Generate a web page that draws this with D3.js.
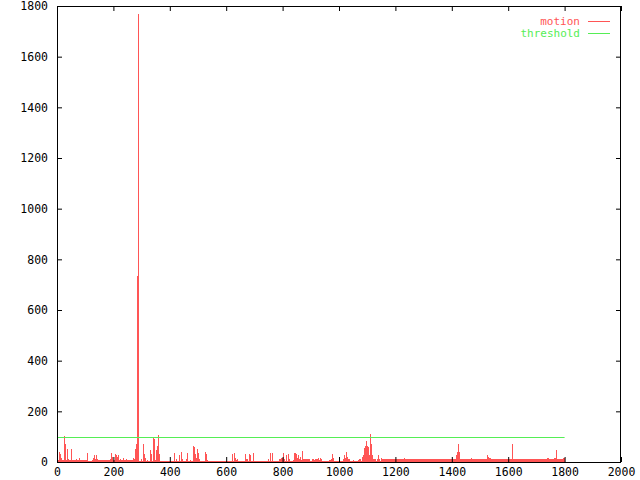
<!DOCTYPE html>
<meta charset="utf-8">
<head>
    <title>Motion</title>
    <script type="text/javascript" src="https://d3js.org/d3.v7.min.js"></script>
    <style>
        body { margin: 0; padding: 0; background: white; }
        text { font-family: "DejaVu Sans Mono", monospace; font-size: 11.5px; }
    </style>
</head>
<body>
<script>
    // frame number where each motion level starts, and the level itself
    const motionFrames = [0, 4, 7, 11, 14, 18, 25, 28, 32, 35, 39, 43, 50, 53, 67, 71, 78, 82, 106, 110,
        124, 128, 131, 135, 138, 142, 145, 188, 191, 195, 199, 206, 209, 213, 216, 220, 223, 227, 234, 238,
        245, 248, 270, 273, 277, 280, 284, 289, 291, 298, 301, 305, 309, 312, 316, 319, 323, 330, 333, 337,
        340, 344, 348, 351, 355, 358, 362, 365, 415, 418, 422, 426, 433, 436, 440, 443, 447, 450, 457, 461,
        465, 472, 475, 482, 486, 489, 493, 496, 500, 504, 507, 514, 525, 528, 532, 535, 543, 560, 606, 613,
        620, 624, 628, 631, 635, 638, 642, 667, 670, 677, 681, 684, 688, 695, 699, 709, 748, 752, 755, 759,
        762, 766, 784, 787, 794, 801, 805, 809, 812, 816, 819, 823, 826, 833, 837, 840, 847, 851, 855, 858,
        862, 865, 869, 872, 897, 904, 911, 915, 918, 925, 929, 933, 936, 940, 957, 961, 965, 972, 975, 979,
        982, 989, 1011, 1014, 1018, 1021, 1025, 1028, 1032, 1039, 1043, 1050, 1053, 1060, 1067, 1071, 1078, 1082, 1085, 1089,
        1092, 1096, 1099, 1103, 1106, 1110, 1113, 1117, 1121, 1128, 1131, 1135, 1138, 1142, 1145, 1149, 1152, 1156, 1230, 1234,
        1270, 1273, 1284, 1287, 1394, 1397, 1414, 1418, 1421, 1425, 1429, 1468, 1472, 1525, 1528, 1532, 1539, 1596, 1599, 1613,
        1617, 1738, 1745, 1762, 1770, 1773, 1777, 1794, 1800];
    const motionValues = [20, 8, 40, 33, 15, 8, 103, 73, 8, 53, 10, 8, 50, 8, 13, 8, 15, 8, 36, 4,
        8, 17, 27, 10, 27, 12, 8, 13, 37, 20, 8, 33, 27, 20, 27, 8, 13, 8, 15, 8,
        13, 8, 17, 13, 50, 73, 735, 1770, 3, 13, 3, 73, 33, 17, 3, 8, 3, 47, 33, 3,
        97, 90, 8, 47, 63, 108, 31, 3, 36, 3, 13, 3, 27, 3, 40, 13, 5, 2, 13, 37,
        5, 8, 4, 63, 60, 33, 17, 53, 37, 13, 5, 3, 40, 31, 8, 5, 2, 3, 5, 3,
        31, 3, 36, 17, 8, 13, 2, 31, 13, 5, 31, 27, 3, 36, 3, 5, 13, 5, 36, 3,
        36, 2, 5, 13, 17, 36, 13, 5, 27, 5, 33, 13, 3, 5, 8, 36, 33, 17, 27, 13,
        20, 8, 44, 10, 3, 10, 8, 13, 10, 17, 8, 17, 13, 5, 3, 5, 8, 13, 33, 17,
        5, 3, 5, 13, 27, 17, 40, 20, 13, 5, 3, 8, 2, 3, 8, 13, 5, 20, 27, 57,
        63, 83, 63, 60, 27, 111, 73, 27, 13, 10, 5, 10, 27, 10, 3, 17, 13, 10, 17, 10,
        13, 10, 13, 10, 13, 10, 27, 40, 73, 40, 10, 17, 10, 27, 20, 17, 10, 13, 10, 70,
        10, 17, 10, 17, 47, 13, 10, 17, 17];
    const threshold = 97;
    const thresholdRange = [0, 1800];
    const xTicks = [0, 200, 400, 600, 800, 1000, 1200, 1400, 1600, 1800, 2000];
    const yTicks = [0, 200, 400, 600, 800, 1000, 1200, 1400, 1600, 1800];
    const seriesNames = ["motion", "threshold"];
    const seriesColors = ["#ff5555", "#55ee55"];

    const width = 640, height = 480;
    const margin = {top: 6, right: 19, bottom: 18, left: 57};

    const svg = d3.select("body").append("svg")
        .attr("width", width)
        .attr("height", height);

    const x = d3.scaleLinear().domain([0, 2000]).range([margin.left, width - margin.right]);
    const y = d3.scaleLinear().domain([0, 1800]).range([height - margin.bottom, margin.top]);
    const fmt = d3.format("d");

    const motion = motionFrames.map((f, i) => ({frame: f, value: motionValues[i]}));

    // motion as filled impulses (step area)
    svg.append("path")
        .datum(motion)
        .attr("fill", seriesColors[0])
        .attr("shape-rendering", "crispEdges")
        .attr("d", d3.area()
            .curve(d3.curveStepAfter)
            .x(d => x(d.frame))
            .y0(y(0))
            .y1(d => y(d.value)));

    // threshold
    svg.append("line")
        .attr("x1", x(thresholdRange[0])).attr("x2", x(thresholdRange[1]))
        .attr("y1", Math.round(y(threshold)) + 0.5).attr("y2", Math.round(y(threshold)) + 0.5)
        .attr("stroke", seriesColors[1]);

    // axes: ticks inside, mirrored
    const tickLen = 5;
    svg.append("g")
        .attr("transform", `translate(0,${y(0)})`)
        .call(d3.axisBottom(x).tickValues(xTicks).tickFormat(fmt).tickSizeInner(-tickLen).tickSizeOuter(0).tickPadding(6))
        .call(g => g.select(".domain").remove());
    svg.append("g")
        .attr("transform", `translate(0,${y(1800)})`)
        .call(d3.axisTop(x).tickValues(xTicks).tickSizeInner(-tickLen).tickSizeOuter(0).tickFormat(""))
        .call(g => g.select(".domain").remove());
    svg.append("g")
        .attr("transform", `translate(${x(0)},0)`)
        .call(d3.axisLeft(y).tickValues(yTicks).tickFormat(fmt).tickSizeInner(-tickLen).tickSizeOuter(0).tickPadding(9))
        .call(g => g.select(".domain").remove());
    svg.append("g")
        .attr("transform", `translate(${x(2000)},0)`)
        .call(d3.axisRight(y).tickValues(yTicks).tickSizeInner(-tickLen).tickSizeOuter(0).tickFormat(""))
        .call(g => g.select(".domain").remove());

    svg.selectAll(".tick text")
        .attr("fill", "black")
        .style("font-family", "'DejaVu Sans Mono', monospace")
        .style("font-size", "11.5px");
    svg.selectAll(".tick line").attr("stroke", "black");

    // border
    svg.append("rect")
        .attr("x", x(0) + 0.5).attr("y", y(1800) + 0.5)
        .attr("width", x(2000) - x(0) - 1).attr("height", y(0) - y(1800))
        .attr("fill", "none")
        .attr("stroke", "black");

    // legend
    const legend = svg.append("g").selectAll("g")
        .data(seriesNames)
        .join("g")
        .attr("transform", (d, i) => `translate(0,${21 + i * 12})`);
    legend.append("text")
        .attr("x", 580)
        .attr("dy", "0.35em")
        .attr("text-anchor", "end")
        .attr("fill", (d, i) => seriesColors[i])
        .style("font-size", "11px")
        .text(d => d);
    legend.append("line")
        .attr("x1", 588).attr("x2", 610)
        .attr("y1", 0.5).attr("y2", 0.5)
        .attr("stroke", (d, i) => seriesColors[i]);
</script>
</body>
</html>
